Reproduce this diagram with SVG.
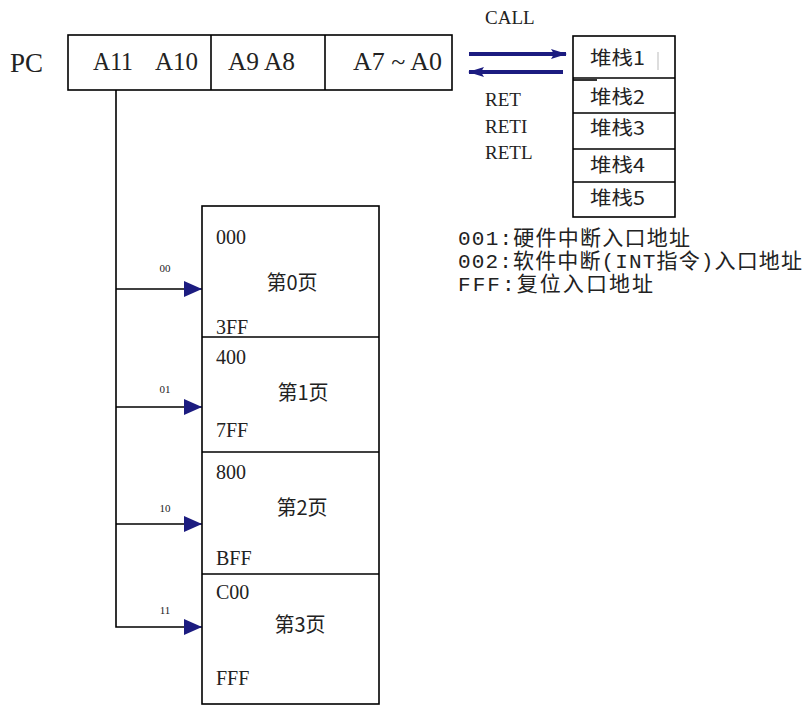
<svg xmlns="http://www.w3.org/2000/svg" width="804" height="706" viewBox="0 0 804 706">
<style>
.box{fill:#fff;stroke:#000;stroke-width:1.6}
.ln{fill:none;stroke:#000;stroke-width:1.6}
.serif{font-family:"Liberation Serif","Times New Roman",serif;fill:#222}
.cjk{font-family:"Noto Sans CJK SC",sans-serif;fill:#222}
.mono{font-family:"Liberation Mono","Noto Sans CJK SC",monospace;fill:#222}
.nv{fill:none;stroke:#1c1c80;stroke-width:4}
</style>
<defs>
<marker id="tri" viewBox="0 0 18 16" refX="18" refY="8" markerWidth="18" markerHeight="16" markerUnits="userSpaceOnUse" orient="auto">
<path d="M0,0 L18,8 L0,16 Z" fill="#1c1c80"/>
</marker>
<marker id="nav" viewBox="0 0 16 10" refX="15" refY="5" markerWidth="16" markerHeight="10" markerUnits="userSpaceOnUse" orient="auto">
<path d="M0,0 L16,5 L0,10 L3,5 Z" fill="#1c1c80"/>
</marker>
</defs>
<rect width="804" height="706" fill="#fff"/>

<g id="pc">
<text class="serif" x="10" y="72" font-size="27" textLength="33" lengthAdjust="spacingAndGlyphs">PC</text>
<rect class="box" x="68" y="35" width="384" height="55"/>
<line class="ln" x1="211" y1="35" x2="211" y2="90"/>
<line class="ln" x1="325" y1="35" x2="325" y2="90"/>
<text class="serif" x="93" y="70" font-size="25" textLength="40" lengthAdjust="spacingAndGlyphs">A11</text>
<text class="serif" x="155" y="70" font-size="25" textLength="43" lengthAdjust="spacingAndGlyphs">A10</text>
<text class="serif" x="228" y="70" font-size="25" textLength="67" lengthAdjust="spacingAndGlyphs">A9 A8</text>
<text class="serif" x="353" y="70" font-size="25" textLength="89" lengthAdjust="spacingAndGlyphs">A7 ~ A0</text>
</g>

<g id="stack">
<rect class="box" x="573" y="36" width="102" height="181"/>
<line class="ln" x1="573" y1="78" x2="675" y2="78"/>
<line x1="573" y1="80" x2="597" y2="80" stroke="#000" stroke-width="1.6"/>
<line class="ln" x1="573" y1="113" x2="675" y2="113"/>
<line class="ln" x1="573" y1="149" x2="675" y2="149"/>
<line class="ln" x1="573" y1="182" x2="675" y2="182"/>
<line x1="658" y1="52" x2="658" y2="70" stroke="#bbb" stroke-width="1"/>
<text class="cjk" x="590" y="65" font-size="19" textLength="55" lengthAdjust="spacingAndGlyphs">堆栈1</text>
<text class="cjk" x="590" y="104" font-size="19" textLength="55" lengthAdjust="spacingAndGlyphs">堆栈2</text>
<text class="cjk" x="590" y="135" font-size="19" textLength="55" lengthAdjust="spacingAndGlyphs">堆栈3</text>
<text class="cjk" x="590" y="172" font-size="19" textLength="55" lengthAdjust="spacingAndGlyphs">堆栈4</text>
<text class="cjk" x="590" y="205" font-size="19" textLength="55" lengthAdjust="spacingAndGlyphs">堆栈5</text>
</g>

<g id="call-ret">
<text class="serif" x="485" y="24" font-size="19">CALL</text>
<text class="serif" x="485" y="106" font-size="19">RET</text>
<text class="serif" x="485" y="133" font-size="19">RETI</text>
<text class="serif" x="485" y="159" font-size="19">RETL</text>
</g>

<g id="legend">
<text class="mono" x="458" y="245" font-size="21" textLength="232" lengthAdjust="spacing">001:硬件中断入口地址</text>
<text class="mono" x="458" y="268" font-size="21" textLength="344" lengthAdjust="spacing">002:软件中断(INT指令)入口地址</text>
<text class="mono" x="458" y="291" font-size="21" textLength="195" lengthAdjust="spacing">FFF:复位入口地址</text>
</g>

<g id="pages">
<rect class="box" x="202" y="206" width="177" height="498"/>
<line class="ln" x1="202" y1="337" x2="379" y2="337"/>
<line class="ln" x1="202" y1="452" x2="379" y2="452"/>
<line class="ln" x1="202" y1="574" x2="379" y2="574"/>
</g>
<g id="page0">
<text class="serif" x="216" y="244" font-size="20">000</text>
<text class="cjk" x="292" y="290" font-size="20" text-anchor="middle">第0页</text>
<text class="serif" x="216" y="334" font-size="20">3FF</text>
</g>
<g id="page1">
<text class="serif" x="216" y="364" font-size="20">400</text>
<text class="cjk" x="303" y="400" font-size="20" text-anchor="middle">第1页</text>
<text class="serif" x="216" y="437" font-size="20">7FF</text>
</g>
<g id="page2">
<text class="serif" x="216" y="479" font-size="20">800</text>
<text class="cjk" x="302" y="515" font-size="20" text-anchor="middle">第2页</text>
<text class="serif" x="216" y="565" font-size="20">BFF</text>
</g>
<g id="page3">
<text class="serif" x="216" y="599" font-size="20">C00</text>
<text class="cjk" x="300" y="632" font-size="20" text-anchor="middle">第3页</text>
<text class="serif" x="216" y="685" font-size="20">FFF</text>
</g>

<g id="connectors">
<polyline class="ln" points="116,90 116,627 202,627" marker-end="url(#tri)"/>
<line class="ln" x1="116" y1="289" x2="202" y2="289" marker-end="url(#tri)"/>
<line class="ln" x1="116" y1="407" x2="202" y2="407" marker-end="url(#tri)"/>
<line class="ln" x1="116" y1="524" x2="202" y2="524" marker-end="url(#tri)"/>
<text class="serif" x="165" y="272" font-size="11" text-anchor="middle">00</text>
<text class="serif" x="165" y="393" font-size="11" text-anchor="middle">01</text>
<text class="serif" x="165" y="512" font-size="11" text-anchor="middle">10</text>
<text class="serif" x="165" y="614" font-size="11" text-anchor="middle">11</text>
<line class="nv" x1="469" y1="54" x2="566" y2="54" marker-end="url(#nav)"/>
<line class="nv" x1="563" y1="72" x2="469" y2="72" marker-end="url(#nav)"/>
</g>
</svg>
